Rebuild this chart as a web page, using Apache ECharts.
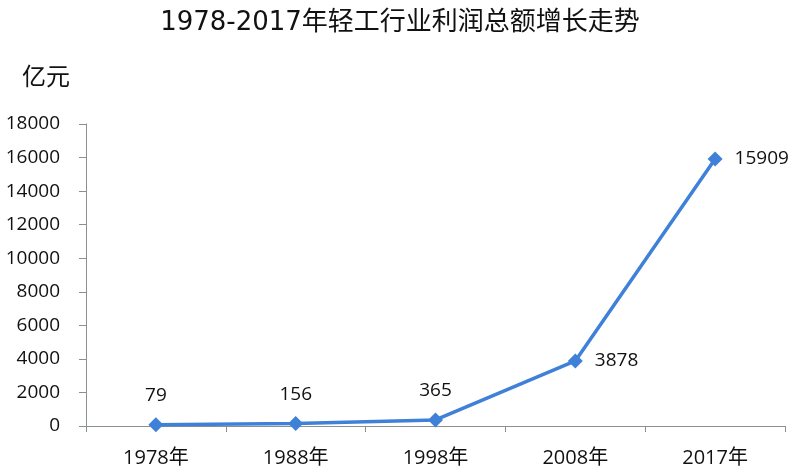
<!DOCTYPE html>
<html><head><meta charset="utf-8">
<script src="https://cdn.jsdelivr.net/npm/echarts@6/dist/echarts.min.js"></script>
<style>html,body{margin:0;padding:0;background:#fff}#c{width:800px;height:472px}</style>
</head><body><div id="c"></div>
<script>
const categories = ['1978年','1988年','1998年','2008年','2017年'];
const profits = [79, 156, 365, 3878, 15909];
const labelPos = ['top','top','top','right','right'];
const yMin = 0, yMax = 18000, yInterval = 2000;

const chart = echarts.init(document.getElementById('c'));
const font = '"Open Sans", "Noto Sans CJK SC", sans-serif';
chart.setOption({
  animation: false,
  backgroundColor: '#fff',
  title: {
    text: '1978-2017年轻工行业利润总额增长走势',
    left: 'center', top: 5,
    textStyle: { fontFamily: '"DejaVu Sans", "Noto Sans CJK SC", sans-serif', fontSize: 26, fontWeight: 'normal', color: '#111' }
  },
  graphic: [{
    type: 'text', left: 22, top: 64,
    style: { text: '亿元', font: '24px "Noto Sans CJK SC", sans-serif', fill: '#111' }
  }],
  grid: { left: 86, right: 15, top: 124, bottom: 46 },
  xAxis: {
    type: 'category', data: categories, boundaryGap: true,
    axisLine: { lineStyle: { color: '#8a9090', width: 1 } },
    axisTick: { show: true, length: 6, lineStyle: { color: '#8a9090' } },
    axisLabel: { fontFamily: font, fontSize: 20, color: '#111', margin: 22 }
  },
  yAxis: {
    type: 'value', min: yMin, max: yMax, interval: yInterval,
    splitLine: { show: false },
    axisLine: { show: true, lineStyle: { color: '#8a9090', width: 1 } },
    axisTick: { show: true, length: 7, lineStyle: { color: '#8a9090' } },
    axisLabel: { fontFamily: font, fontSize: 19, color: '#111', margin: 26, formatter: v => String(v) }
  },
  series: [{
    type: 'line',
    data: profits.map((v, i) => ({ value: v, label: { position: labelPos[i] } })),
    symbol: 'diamond', symbolSize: 15,
    lineStyle: { color: '#3f80d8', width: 3.5 },
    itemStyle: { color: '#3f80d8' },
    label: { show: true, fontFamily: font, fontSize: 19, color: '#111', distance: 12 }
  }]
});
</script></body></html>
